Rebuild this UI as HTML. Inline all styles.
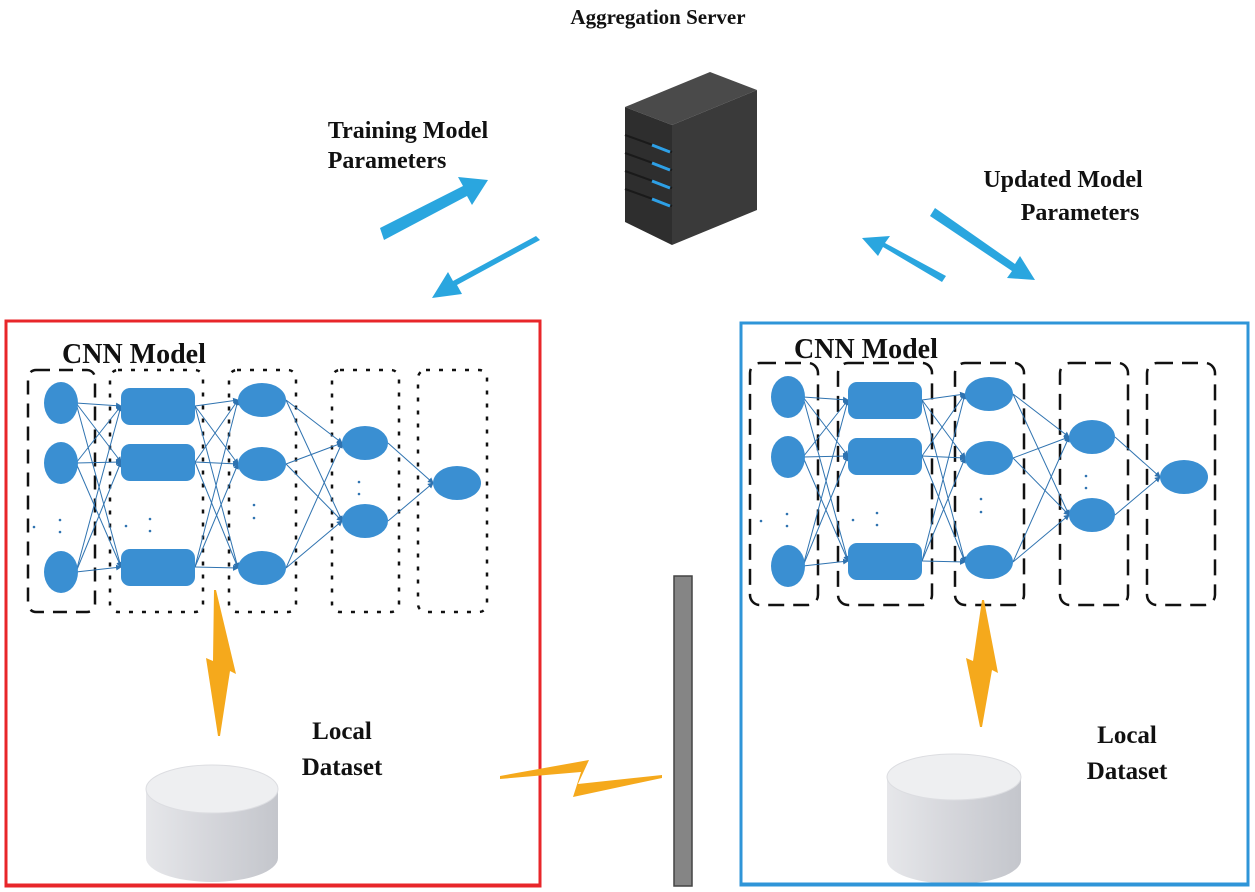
<!DOCTYPE html>
<html><head><meta charset="utf-8"><style>
html,body{margin:0;padding:0;background:#fff;}
svg{display:block;}
text{font-family:"Liberation Serif",serif;font-weight:bold;fill:#111;}
</style></head><body>
<svg width="1255" height="892" viewBox="0 0 1255 892" xmlns="http://www.w3.org/2000/svg">
<defs>
<marker id="ah" markerWidth="6" markerHeight="6" refX="5" refY="3" orient="auto"><path d="M0,0 L6,3 L0,6 z" fill="#2f73b0"/></marker>
<linearGradient id="cyl" x1="0" x2="1" y1="0" y2="0"><stop offset="0" stop-color="#e6e7ea"/><stop offset="0.45" stop-color="#d6d7dc"/><stop offset="1" stop-color="#c4c6cc"/></linearGradient>
<g id="net">
 <g stroke="#2f73b0" stroke-width="1" fill="none" marker-end="url(#ah)">
  <line x1="76" y1="403" x2="121" y2="406"/><line x1="76" y1="403" x2="121" y2="462"/><line x1="76" y1="403" x2="121" y2="567"/>
  <line x1="76" y1="463" x2="121" y2="406"/><line x1="76" y1="463" x2="121" y2="462"/><line x1="76" y1="463" x2="121" y2="567"/>
  <line x1="76" y1="572" x2="121" y2="406"/><line x1="76" y1="572" x2="121" y2="462"/><line x1="76" y1="572" x2="121" y2="567"/>
  <line x1="195" y1="406" x2="238" y2="400"/><line x1="195" y1="406" x2="238" y2="464"/><line x1="195" y1="406" x2="238" y2="568"/>
  <line x1="195" y1="462" x2="238" y2="400"/><line x1="195" y1="462" x2="238" y2="464"/><line x1="195" y1="462" x2="238" y2="568"/>
  <line x1="195" y1="567" x2="238" y2="400"/><line x1="195" y1="567" x2="238" y2="464"/><line x1="195" y1="567" x2="238" y2="568"/>
  <line x1="286" y1="400" x2="342" y2="443"/><line x1="286" y1="400" x2="342" y2="521"/>
  <line x1="286" y1="464" x2="342" y2="443"/><line x1="286" y1="464" x2="342" y2="521"/>
  <line x1="286" y1="568" x2="342" y2="443"/><line x1="286" y1="568" x2="342" y2="521"/>
  <line x1="388" y1="443" x2="433" y2="483"/><line x1="388" y1="521" x2="433" y2="483"/>
 </g>
 <g fill="#3a8fd2">
  <ellipse cx="61" cy="403" rx="17" ry="21"/><ellipse cx="61" cy="463" rx="17" ry="21"/><ellipse cx="61" cy="572" rx="17" ry="21"/>
  <rect x="121" y="388" width="74" height="37" rx="9"/><rect x="121" y="444" width="74" height="37" rx="9"/><rect x="121" y="549" width="74" height="37" rx="9"/>
  <ellipse cx="262" cy="400" rx="24" ry="17"/><ellipse cx="262" cy="464" rx="24" ry="17"/><ellipse cx="262" cy="568" rx="24" ry="17"/>
  <ellipse cx="365" cy="443" rx="23" ry="17"/><ellipse cx="365" cy="521" rx="23" ry="17"/>
  <ellipse cx="457" cy="483" rx="24" ry="17"/>
 </g>
 <g fill="#2f73b0">
  <circle cx="34" cy="527" r="1.3"/><circle cx="60" cy="520" r="1.3"/><circle cx="60" cy="532" r="1.3"/>
  <circle cx="126" cy="526" r="1.3"/><circle cx="150" cy="519" r="1.3"/><circle cx="150" cy="531" r="1.3"/>
  <circle cx="254" cy="505" r="1.3"/><circle cx="254" cy="518" r="1.3"/>
  <circle cx="359" cy="482" r="1.3"/><circle cx="359" cy="494" r="1.3"/>
 </g>
</g>
</defs>

<text x="658" y="24" font-size="21" text-anchor="middle">Aggregation Server</text>
<text x="408" y="138" font-size="24" text-anchor="middle">Training Model</text>
<text x="387" y="168" font-size="24" text-anchor="middle">Parameters</text>
<text x="1063" y="187" font-size="24" text-anchor="middle">Updated Model</text>
<text x="1080" y="220" font-size="24" text-anchor="middle">Parameters</text>

<!-- server -->
<polygon points="625,107 710,72 757,90 672,125" fill="#4a4a4a"/>
<polygon points="625,107 672,125 672,245 625,222" fill="#2e2e2e"/>
<polygon points="672,125 757,90 757,210 672,245" fill="#3a3a3a"/>
<g stroke="#1a1a1a" stroke-width="2"><line x1="625" y1="135" x2="672" y2="152"/><line x1="625" y1="153" x2="672" y2="170"/><line x1="625" y1="171" x2="672" y2="188"/><line x1="625" y1="189" x2="672" y2="206"/></g>
<g stroke="#2ea0e6" stroke-width="3"><line x1="652" y1="145" x2="670" y2="152"/><line x1="652" y1="163" x2="670" y2="170"/><line x1="652" y1="181" x2="670" y2="188"/><line x1="652" y1="199" x2="670" y2="206"/></g>

<!-- arrows -->
<g fill="#2aa6df">
 <polygon points="380,228 463,186 458,177 488,180 472,205 467,196 384,240"/>
 <polygon points="540,240 457,285 462,294 432,298 448,272 453,281 536,236"/>
 <polygon points="942,282 883,247 878,256 862,238 890,236 885,243 946,276"/>
 <polygon points="935,208 1015,264 1020,256 1035,280 1007,278 1012,271 930,216"/>
</g>

<!-- boxes -->
<rect x="6" y="321" width="534" height="565" fill="none" stroke="#e8262a" stroke-width="3"/>
<rect x="741" y="323" width="507" height="562" fill="none" stroke="#2f95d8" stroke-width="3"/>
<rect x="674" y="576" width="18" height="310" fill="#858585" stroke="#444" stroke-width="1.5"/>

<text x="62" y="363" font-size="28">CNN Model</text>
<text x="794" y="358" font-size="28">CNN Model</text>

<!-- left layer boxes -->
<g fill="none" stroke="#111" stroke-width="2.5">
 <rect x="28" y="370" width="67" height="242" rx="8" stroke-dasharray="14,9"/>
 <rect x="110" y="370" width="93" height="242" rx="8" stroke-dasharray="4,9"/>
 <rect x="229" y="370" width="67" height="242" rx="8" stroke-dasharray="4,9"/>
 <rect x="332" y="370" width="67" height="242" rx="8" stroke-dasharray="4,9"/>
 <rect x="418" y="370" width="69" height="242" rx="8" stroke-dasharray="4,9"/>
</g>
<use href="#net"/>
<!-- right layer boxes -->
<g fill="none" stroke="#111" stroke-width="2.5" stroke-dasharray="16,9">
 <rect x="750" y="363" width="68" height="242" rx="10"/>
 <rect x="838" y="363" width="94" height="242" rx="10"/>
 <rect x="955" y="363" width="69" height="242" rx="10"/>
 <rect x="1060" y="363" width="68" height="242" rx="10"/>
 <rect x="1147" y="363" width="68" height="242" rx="10"/>
</g>
<use href="#net" transform="translate(727,-6)"/>

<!-- lightning -->
<g fill="#f5a91c">
 <polygon points="216,590 236,674 230,671 220,736 218,736 206,658 213,661 214,590"/>
 <polygon points="984,600 998,673 992,670 982,727 980,727 966,658 973,661 982,600"/>
 <polygon points="500,776 589,760 578,784 662,775 662,778 573,797 581,772 500,779"/>
</g>

<text x="342" y="739" font-size="25" text-anchor="middle">Local</text>
<text x="342" y="775" font-size="25" text-anchor="middle">Dataset</text>
<text x="1127" y="743" font-size="25" text-anchor="middle">Local</text>
<text x="1127" y="779" font-size="25" text-anchor="middle">Dataset</text>

<!-- cylinders -->
<path d="M146,789 L146,858 A66,24 0 0 0 278,858 L278,789 Z" fill="url(#cyl)"/>
<ellipse cx="212" cy="789" rx="66" ry="24" fill="#eeeff1" stroke="#dcdde1"/>
<path d="M887,777 L887,860 A67,24 0 0 0 1021,860 L1021,777 Z" fill="url(#cyl)"/>
<ellipse cx="954" cy="777" rx="67" ry="23" fill="#eeeff1" stroke="#dcdde1"/>
<line x1="5" y1="885" x2="541" y2="885" stroke="#e8262a" stroke-width="3"/>
<line x1="740" y1="884" x2="1249" y2="884" stroke="#2f95d8" stroke-width="3"/>
</svg>
</body></html>
